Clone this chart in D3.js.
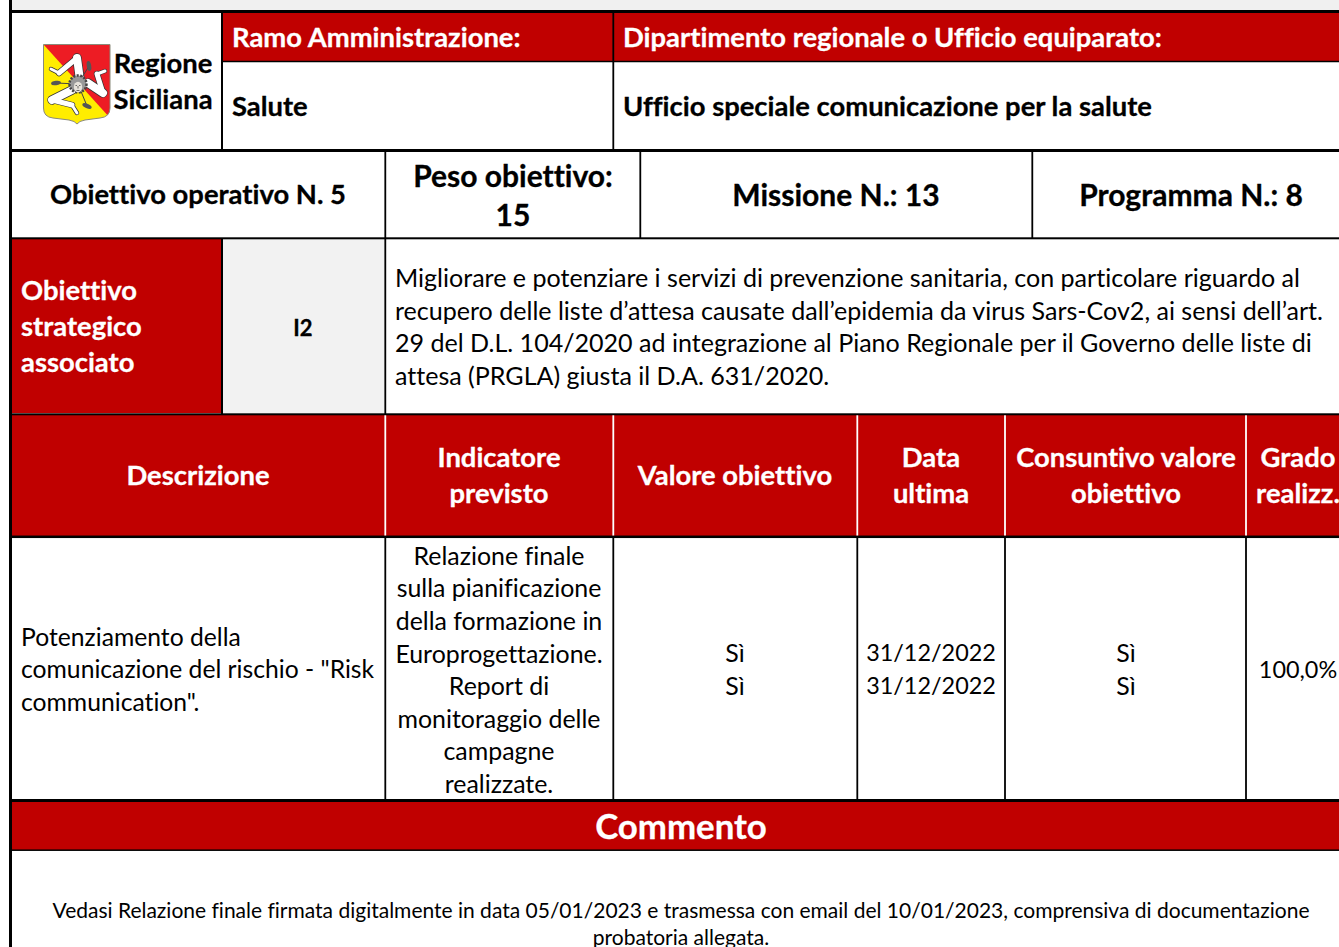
<!DOCTYPE html>
<html>
<head>
<meta charset="utf-8">
<title>Obiettivo operativo N. 5</title>
<script src="https://d3js.org/d3.v7.min.js"></script>
<style>
html, body { margin: 0; padding: 0; background: #fff; overflow: hidden; }
svg { display: block; }
text { font-family: Lato, sans-serif; fill: #000; dominant-baseline: central; font-variant-ligatures: none; }
.b26, .b28, .b21, .b33 { font-weight: 700; stroke: #000; stroke-width: 0.3px; }
.b26 { font-size: 27.4px; }
.b28 { font-size: 30px; }
.b21 { font-size: 22px; }
.b33 { font-size: 34.8px; }
.r24 { font-size: 24.9px; }
.para { font-size: 25.05px; }
.desc { font-size: 24.7px; }
.date { font-size: 23.4px; }
.r19 { font-size: 21px; }
text.w { fill: #fff; stroke: #fff; }
</style>
</head>
<body>
<div id="plot"></div>
<script>
var width = 1339, height = 947;
var red = "#c00000", grey = "#f0f0f0";

// table content
var logoLabel = ["Regione", "Siciliana"];
var topHeads = ["Ramo Amministrazione:", "Dipartimento regionale o Ufficio equiparato:"];
var topValues = ["Salute", "Ufficio speciale comunicazione per la salute"];
var objective = "Obiettivo operativo N. 5";
var weight = ["Peso obiettivo:", "15"];
var mission = "Missione N.: 13";
var program = "Programma N.: 8";
var strategic = ["Obiettivo", "strategico", "associato"];
var strategicCode = "I2";
var strategicText = [
  "Migliorare e potenziare i servizi di prevenzione sanitaria, con particolare riguardo al",
  "recupero delle liste d\u2019attesa causate dall\u2019epidemia da virus Sars-Cov2, ai sensi dell\u2019art.",
  "29 del D.L. 104/2020 ad integrazione al Piano Regionale per il Governo delle liste di",
  "attesa (PRGLA) giusta il D.A. 631/2020."
];
var columnHeads = [
  ["Descrizione"],
  ["Indicatore", "previsto"],
  ["Valore obiettivo"],
  ["Data", "ultima"],
  ["Consuntivo valore", "obiettivo"],
  ["Grado", "realizz."]
];
var description = ["Potenziamento della", "comunicazione del rischio - \"Risk", "communication\"."];
var indicator = ["Relazione finale", "sulla pianificazione", "della formazione in", "Europrogettazione.",
  "Report di", "monitoraggio delle", "campagne", "realizzate."];
var targetValues = ["S\u00ec", "S\u00ec"];
var dates = ["31/12/2022", "31/12/2022"];
var actualValues = ["S\u00ec", "S\u00ec"];
var achievement = ["100,0%"];
var commentTitle = "Commento";
var comment = [
  "Vedasi Relazione finale firmata digitalmente in data 05/01/2023 e trasmessa con email del 10/01/2023, comprensiva di documentazione",
  "probatoria allegata."
];

var svg = d3.select("#plot").append("svg").attr("width", width).attr("height", height);

function fill(x0, y0, x1, y1, colour) {
  svg.append("rect").attr("x", x0).attr("y", y0).attr("width", x1 - x0).attr("height", y1 - y0).style("fill", colour);
}
function hline(y, w, x0) {
  fill(x0 || 9, y - w / 2, width, y + w / 2, "#000");
}
function vline(x, y0, y1, w, colour) {
  fill(x - w / 2, y0, x + w / 2, y1, colour || "#000");
}

// backgrounds
fill(12, 0, width, 10, grey);
fill(223, 13, width, 61, red);
fill(12, 239, 221, 413, red);
fill(223, 239, 385, 413, "#f2f2f2");
fill(12, 415, width, 536, red);
fill(12, 802, width, 850, red);

// rules
hline(11.5, 3);
hline(61.5, 1.5, 222);
hline(150.5, 3);
hline(238.3, 2);
hline(414.3, 2);
hline(536.8, 2.5);
hline(800.5, 3);
hline(850.2, 1.5);
vline(10.5, 0, height, 3);
vline(222, 13, 150, 2);
vline(222, 239, 414, 2);
vline(613.3, 13, 150, 1.8);
vline(385.3, 150, 414, 1.8);
vline(640.3, 150, 238, 1.8);
vline(1032.3, 150, 238, 1.8);
[385.3, 613.3, 857.3, 1005, 1246].forEach(function (x) {
  vline(x, 415.3, 535.5, 1.8, "#fff");
  vline(x, 537, 800, 1.8);
});

// text blocks: every line is centred on its slot, slots are spaced by pitch
function block(lines, x, cy, pitch, cls, anchor) {
  var top = cy - 1.2 - pitch * (lines.length - 1) / 2;
  svg.append("g").selectAll("text").data(lines).enter().append("text")
    .attr("class", cls)
    .attr("x", x)
    .attr("y", function (d, i) { return top + i * pitch; })
    .style("text-anchor", anchor || "middle")
    .text(function (d) { return d; });
}

block(logoLabel, 163, 82, 36, "b26");
block([topHeads[0]], 232, 38, 0, "b26 w", "start");
block([topHeads[1]], 623, 38, 0, "b26 w", "start");
block([topValues[0]], 232, 107, 0, "b26", "start");
block([topValues[1]], 623, 107, 0, "b26", "start");
block([objective], 198, 195, 0, "b26");
block(weight, 513, 195.5, 39, "b28");
block([mission], 836, 195, 0, "b28");
block([program], 1191, 195, 0, "b28");
block(strategic, 21, 327, 36, "b26 w", "start");
block([strategicCode], 303, 329, 0, "b21");
block(strategicText, 395, 327, 32.6, "para", "start");

var headCentres = [198, 499, 735, 931, 1126, 1298];
columnHeads.forEach(function (lines, i) {
  block(lines, headCentres[i], 476, 36, "b26 w");
});

block(description, 21, 670, 32.6, "desc", "start");
block(indicator, 499, 670, 32.6, "r24");
block(targetValues, 735, 669.5, 33, "r24");
block(dates, 931, 669.5, 33, "date");
block(actualValues, 1126, 669.5, 33, "r24");
block(achievement, 1298, 670, 0, "date");
block([commentTitle], 681, 827, 0, "b33 w");
block(comment, 681, 924.5, 27, "r19");

// coat of arms
var logo = svg.append("g");
var shield = "M43.5,44.5 L110,44.5 L110,108 Q110,117 100,118 L85,120 Q79,121 77,124 Q75,121 69,120 L53,118 Q43.5,117 43.5,108 Z";
logo.append("clipPath").attr("id", "shieldClip").append("path").attr("d", shield);
logo.append("path").attr("d", shield).style("fill", "#ffed00");
logo.append("path").attr("d", "M43.5,44.5 L110,44.5 L110,118 Z")
  .attr("clip-path", "url(#shieldClip)").style("fill", "#ed1c24");
logo.append("path").attr("d", shield).style("fill", "none").style("stroke", "#8a8a7a").style("stroke-width", 1);

// hip, knee, ankle, toe of each leg, thinning towards the foot
var legs = [
  [[80, 80], [77, 58], [59, 73], [51, 69]],
  [[88, 83], [103, 93], [97, 74], [105, 71]],
  [[72, 90], [52, 100], [72, 105], [77, 113]]
];
var legWidths = [8, 5, 3];
[[1.4, "#333"], [0, "#fff"]].forEach(function (pass) {
  legs.forEach(function (leg) {
    d3.pairs(leg).forEach(function (seg, i) {
      logo.append("line")
        .attr("x1", seg[0][0]).attr("y1", seg[0][1]).attr("x2", seg[1][0]).attr("y2", seg[1][1])
        .style("stroke", pass[1]).style("stroke-width", legWidths[i] + pass[0])
        .style("stroke-linecap", "round");
    });
  });
});
[[89, 66, 80], [56, 83, -8], [87, 106, 25]].forEach(function (w) {
  logo.append("line").attr("x1", w[0]).attr("y1", w[1]).attr("x2", 78).attr("y2", 84)
    .style("stroke", "#444").style("stroke-width", 1);
  logo.append("ellipse").attr("cx", w[0]).attr("cy", w[1]).attr("rx", 5).attr("ry", 2.2)
    .attr("transform", "rotate(" + w[2] + " " + w[0] + " " + w[1] + ")")
    .style("fill", "#555");
});
logo.append("circle").attr("cx", 78).attr("cy", 84).attr("r", 8.5)
  .style("fill", "#999").style("stroke", "#444").style("stroke-width", 2.5).style("stroke-dasharray", "2 1.5");
logo.append("ellipse").attr("cx", 78).attr("cy", 87).attr("rx", 4.2).attr("ry", 5.2).style("fill", "#e6e2da");
logo.append("path").attr("d", "M75.5,85.5 h1.5 M79,85.5 h1.5 M78,86 v2.5 M76.5,90.5 h3")
  .style("stroke", "#333").style("stroke-width", 0.7).style("fill", "none");
</script>
</body>
</html>
